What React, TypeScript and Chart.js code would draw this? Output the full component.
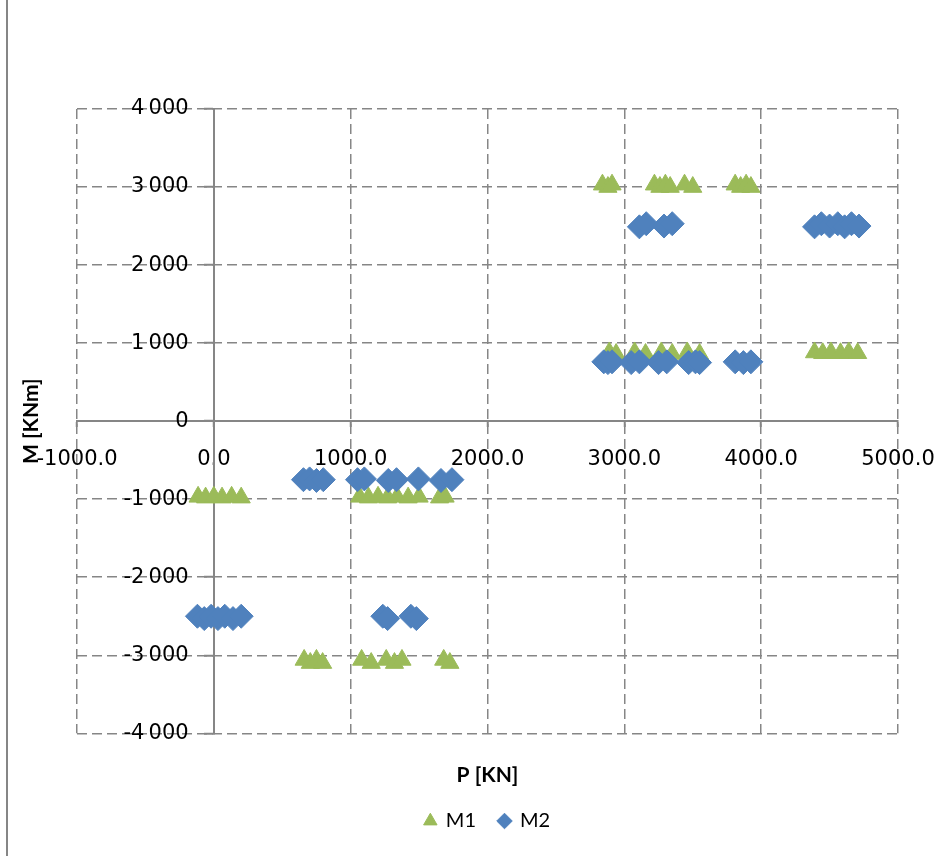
import React, { useEffect, useRef } from 'react';
import { Chart, registerables } from 'chart.js';

Chart.register(...registerables);

const xTitle = 'P [KN]';
const yTitle = 'M [KNm]';
const seriesNames = ['M1', 'M2'];
const xRange = [-1000, 5000];
const yRange = [-4000, 4000];
const tickStep = 1000;

// M1 (green triangles)
const m1P = [
  2840, 2880, 2910, 3220, 3260, 3300, 3335, 3440, 3500, 3810, 3850, 3890, 3925,
  2890, 2940, 3075, 3155, 3270, 3350, 3460, 3550,
  4390, 4450, 4510, 4580, 4640, 4705,
  -115, -60, 0, 60, 130, 200,
  1065, 1130, 1200, 1270, 1340, 1420, 1500, 1650, 1690,
  660, 705, 750, 795, 1080, 1150, 1260, 1320, 1375, 1680, 1725,
];
const m1M = [
  3030, 3000, 3030, 3030, 3000, 3030, 3000, 3030, 3000, 3030, 3000, 3030, 3000,
  880, 860, 880, 860, 880, 860, 880, 860,
  880, 870, 880, 870, 880, 870,
  -970, -980, -970, -980, -970, -980,
  -970, -980, -970, -980, -970, -980, -970, -980, -970,
  -3060, -3100, -3060, -3100, -3060, -3100, -3060, -3100, -3060, -3060, -3100,
];

// M2 (blue diamonds)
const m2P = [
  3110, 3160, 3290, 3350,
  4390, 4440, 4500, 4560, 4610, 4660, 4715,
  2850, 2880, 2910, 3050, 3110, 3250, 3310, 3470, 3520, 3550,
  3810, 3870, 3925,
  655, 700, 750, 800,
  1050, 1100, 1275, 1335, 1495, 1660, 1740,
  -120, -70, -20, 30, 80, 140, 200,
  1235, 1270, 1440, 1480,
];
const m2M = [
  2490, 2530, 2500, 2530,
  2490, 2530, 2500, 2530, 2490, 2530, 2500,
  760, 750, 760, 750, 760, 750, 760, 750, 760, 750,
  760, 750, 760,
  -750, -740, -760, -750,
  -750, -740, -760, -750, -740, -760, -750,
  -2500, -2530, -2500, -2530, -2500, -2530, -2500,
  -2500, -2530, -2500, -2530,
];

const fmtX = (v: number) => Number(v).toFixed(1);
// Thin space as thousands separator; trailing em + thin space keeps the label clear of the axis tick.
const fmtY = (v: number) => {
  const gap = '\u2003\u2009';
  if (v === 0) return '0' + gap;
  const s = Math.abs(v).toString();
  const head = s.slice(0, s.length - 3);
  const tail = s.slice(-3);
  return (v < 0 ? '-' : '') + (head ? head + '\u2009' : '') + tail + gap;
};

const GRID = '#868686';
const AXIS = '#868686';
const TICK_FONT = { family: '"DejaVu Sans", sans-serif', size: 21 };

const yTitlePlugin = {
  id: 'yTitlePlugin',
  afterDraw(chart: any) {
    const { ctx, chartArea } = chart;
    ctx.save();
    ctx.font = 'bold 21px Lato';
    ctx.fillStyle = '#000';
    ctx.translate(31, (chartArea.top + chartArea.bottom) / 2);
    ctx.rotate(-Math.PI / 2);
    ctx.textAlign = 'center';
    ctx.textBaseline = 'middle';
    ctx.fillText(yTitle, 0, 0);
    ctx.restore();
  },
};

export default function App() {
  const ref = useRef<HTMLCanvasElement | null>(null);

  useEffect(() => {
    if (!ref.current) return;
    const chart = new Chart(ref.current, {
      type: 'scatter',
      data: {
        datasets: [
          {
            label: seriesNames[0],
            data: m1P.map((x, i) => ({ x, y: m1M[i] })),
            pointStyle: 'triangle',
            pointRadius: 10.5,
            pointHoverRadius: 10.5,
            borderWidth: 1,
            backgroundColor: '#9BBB59',
            borderColor: '#9BBB59',
            order: 1,
          },
          {
            label: seriesNames[1],
            data: m2P.map((x, i) => ({ x, y: m2M[i] })),
            pointStyle: 'rectRot',
            pointRadius: 12,
            pointHoverRadius: 12,
            borderWidth: 1,
            backgroundColor: '#4F81BD',
            borderColor: '#4F81BD',
            order: 0,
          },
        ],
      },
      options: {
        responsive: false,
        animation: false,
        layout: { padding: { left: 77, right: 41, top: 109, bottom: 15 } },
        scales: {
          x: {
            type: 'linear',
            position: { y: 0 } as any,
            min: xRange[0],
            max: xRange[1],
            afterFit: (s: any) => { s.height = 0; },
            ticks: {
              stepSize: tickStep,
              callback: (v: any) => fmtX(v),
              font: TICK_FONT,
              color: '#000',
              padding: 0,
              maxRotation: 0,
              autoSkip: false,
            },
            grid: {
              color: GRID,
              lineWidth: 1.5,
              tickLength: 26,
              tickColor: AXIS,
              tickWidth: 2,
              tickBorderDash: [5, 100],
            },
            border: { display: true, color: AXIS, width: 2, dash: [10, 5] },
          },
          y: {
            type: 'linear',
            position: { x: 0 } as any,
            min: yRange[0],
            max: yRange[1],
            afterFit: (s: any) => { s.width = 0; },
            ticks: {
              stepSize: tickStep,
              callback: (v: any) => fmtY(v),
              font: TICK_FONT,
              color: '#000',
              padding: 0,
              autoSkip: false,
            },
            grid: {
              color: GRID,
              lineWidth: 1.5,
              tickLength: 9,
              tickColor: AXIS,
              tickWidth: 2,
            },
            border: { display: true, color: AXIS, width: 2, dash: [10, 5] },
          },
        },
        plugins: {
          title: {
            display: true,
            text: xTitle,
            position: 'bottom',
            color: '#000',
            font: { family: 'Lato', size: 21, weight: 'bold' },
            padding: { top: 29, bottom: 0.5 },
          },
          legend: {
            display: true,
            position: 'bottom',
            weight: 3000,
            labels: {
              usePointStyle: true,
              boxHeight: 11,
              boxWidth: 11,
              color: '#000',
              font: { family: 'Lato', size: 20 },
              padding: 23,
              sort: (a: any, b: any) => a.datasetIndex - b.datasetIndex,
            },
          } as any,
          tooltip: { enabled: false },
        },
      },
      plugins: [yTitlePlugin],
    });
    return () => chart.destroy();
  }, []);

  return (
    <div style={{ position: 'absolute', left: 0, top: 0, width: 939, height: 856, background: '#fff' }}>
      <div style={{ position: 'absolute', left: 6, top: 0, width: 2, height: 856, background: AXIS }} />
      <canvas ref={ref} width={939} height={856} style={{ position: 'absolute', left: 0, top: 0 }} />
    </div>
  );
}
